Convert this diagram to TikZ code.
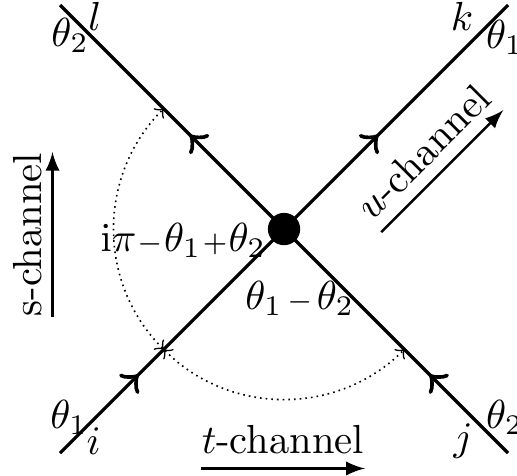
\documentclass[tikz,border=0pt]{standalone}
\usetikzlibrary{decorations.markings}
\newcommand{\opm}{\mathbin{\scriptstyle-}}
\newcommand{\opp}{\mathbin{\scriptstyle+}}
\tikzset{
	leg/.style={thick},
	arrowat/.style={postaction={decorate, decoration={markings, mark=at position #1 with {\arrow[scale=1.4]{>}}}}},
	vertex/.style={circle, fill, inner sep=0pt, minimum size=0.28cm},
	anglearc/.style={densely dotted, thin, <->, >={to[scale=1.5]}},
	chan/.style={-latex, semithick},
	lab/.style={inner sep=0pt},
}
\begin{document}
\begin{tikzpicture}[>=to, scale=0.97]
	\useasboundingbox (-2.536,-2.196) rectangle (2.080,2.045);
	% ends of the four legs
	\coordinate (v) at (0,0);
	\coordinate (i) at (-2,-2);
	\coordinate (j) at (2,-2);
	\coordinate (k) at (2,2);
	\coordinate (l) at (-2,2);
	\draw[leg, arrowat=0.35] (i) -- (v);
	\draw[leg, arrowat=0.35] (j) -- (v);
	\draw[leg, arrowat=0.42] (v) -- (k);
	\draw[leg, arrowat=0.42] (v) -- (l);
	\node[vertex] (dot) at (v) {};
	% angles between the legs
	\coordinate (ai) at (225:1.52);
	\draw[anglearc] (ai) arc[start angle=225, end angle=135, radius=1.52];
	\draw[anglearc] (ai) arc[start angle=225, end angle=315, radius=1.52];
	\node[lab] (phil) at (-0.90,-0.10) {\medmuskip=0.5mu $\mathrm{i}\pi\opm\theta_1\opp\theta_2$};
	\node[lab] (phib) at (0.14,-0.62) {\medmuskip=2mu $\theta_1\opm\theta_2$};
	% particle labels
	\node[lab] (nl) at (-1.69,1.90) {$l$};
	\node[lab] (tl) at (-1.91,1.73) {$\theta_2$};
	\node[lab] (nk) at (1.59,1.90) {$k$};
	\node[lab] (tk) at (1.97,1.71) {$\theta_1$};
	\node[lab] (ni) at (-1.70,-1.89) {$i$};
	\node[lab] (ti) at (-1.92,-1.68) {$\theta_1$};
	\node[lab] (nj) at (1.60,-1.89) {$j$};
	\node[lab] (tj) at (1.97,-1.68) {$\theta_2$};
	% channels
	\node[lab] (tch) at (-0.01,-1.88) {$t$-channel};
	\draw[chan] ([yshift=-3.5pt]tch.south west) -- ([yshift=-3.5pt]tch.south east);
	\node[lab, rotate=90] (sch) at (-2.29,-0.05) {s-channel};
	\draw[chan] ([xshift=2.5pt]sch.south west) -- ([xshift=2.5pt]sch.south east);
	\node[lab, rotate=45] (uch) at (1.24,0.69) {$u$-channel};
	\draw[chan] ([shift={(2.2pt,-2.2pt)}]uch.south west) -- ([shift={(2.2pt,-2.2pt)}]uch.south east);
\end{tikzpicture}
\end{document}
